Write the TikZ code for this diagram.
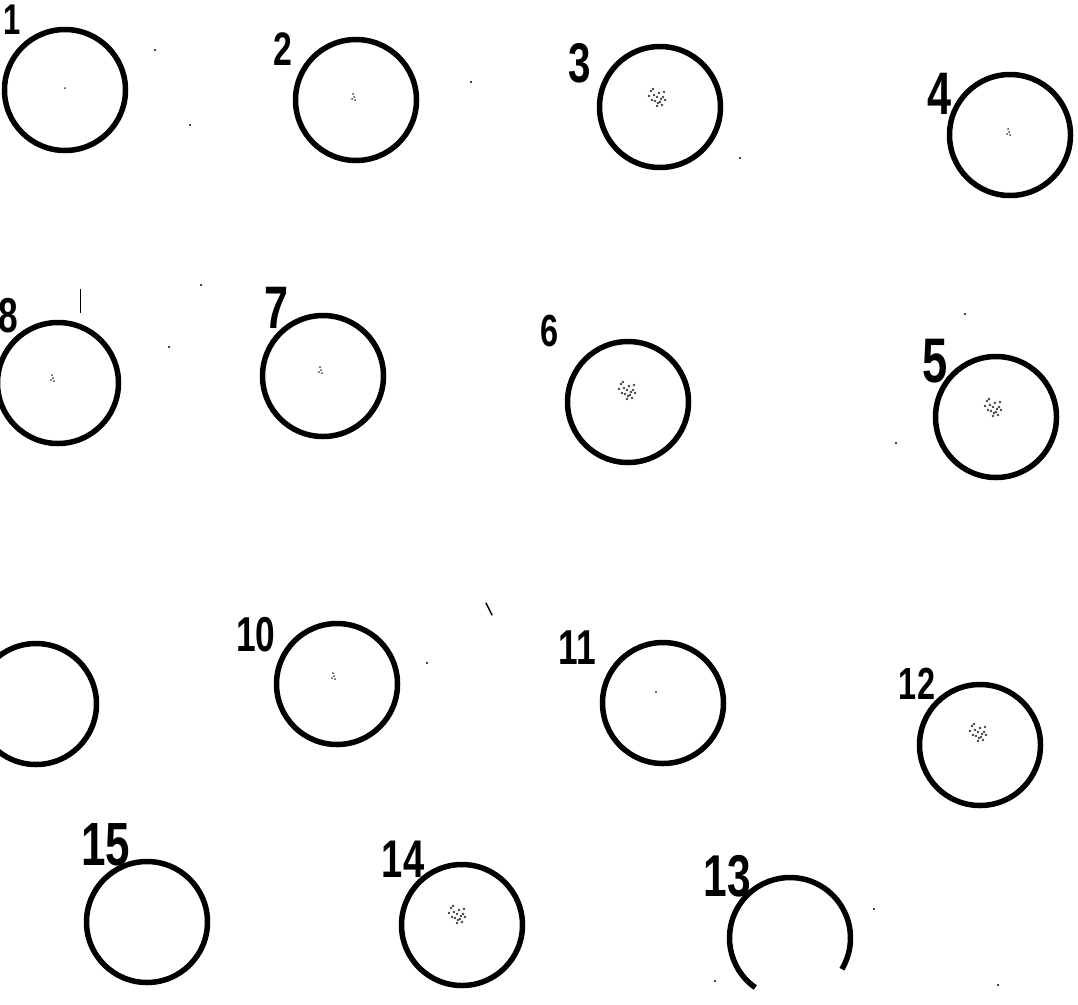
\documentclass[tikz,border=0pt]{standalone}
\usepackage{fontspec}
\setmainfont{Liberation Sans}
\newcommand\lbl[4]{\node[lab] (#1) at (#2) {\fontsize{#3}{#3}\selectfont\scalebox{0.72}[1]{#4}};}
\newcommand\dense[1]{\foreach \dx/\dy in {-6/-8,-3/-4,0/-2,2/-6,4/0,-2/2,1/4,6/-2,-5/1,3/3,8/1,-8/-3,0/7,5/6,-4/-10,7/-7}
  \fill[speck] ([shift={(\dx,\dy)}]#1) circle (1.3);}
\newcommand\light[1]{\foreach \dx/\dy in {0/-3,1/0,-1/2,2/3}
  \fill[speck] ([shift={(\dx,\dy)}]#1) circle (1.0);}
\begin{document}
\begin{tikzpicture}[x=1pt,y=-1pt,
  ring/.style={circle, draw=black, line width=5.5pt, minimum size=121pt, inner sep=0pt},
  lab/.style={inner sep=0pt, font=\bfseries},
  speck/.style={black!75},
  tick/.style={line width=1.5pt, line cap=round}]
\useasboundingbox (0,0) rectangle (1078,1004);
% circles
\node[ring] (c1)  at (65,90) {};
\node[ring] (c2)  at (356,100) {};
\node[ring] (c3)  at (660,107) {};
\node[ring] (c4)  at (1010,135) {};
\node[ring] (c8)  at (58,383) {};
\node[ring] (c7)  at (323,376) {};
\node[ring] (c6)  at (628,402) {};
\node[ring] (c5)  at (996,417) {};
\node[ring] (c9)  at (36,704) {};
\node[ring] (c10) at (337,684) {};
\node[ring] (c11) at (663,703) {};
\node[ring] (c12) at (980,745) {};
\node[ring] (c15) at (147,922) {};
\node[ring] (c14) at (462,925) {};
\node[circle, minimum size=121pt, inner sep=0pt] (c13) at (790,938) {};
\draw[line width=5.5pt] ([shift={(125:60.5)}]c13.center) arc[start angle=125, end angle=391, radius=60.5];
% labels
\lbl{l1}{12,20}{43}{1}
\lbl{l2}{283,49}{47}{2}
\lbl{l3}{580,63}{56}{3}
\lbl{l4}{939,94}{60}{4}
\lbl{l8}{8,316}{49}{8}
\lbl{l7}{277,308}{60}{7}
\lbl{l6}{550,331}{45}{6}
\lbl{l5}{935,361}{63}{5}
\lbl{l10}{256,635}{49}{10}
\lbl{l11}{577,648}{49}{11}
\lbl{l12}{917,684}{45}{12}
\lbl{l15}{106,845}{61}{15}
\lbl{l14}{403,859}{53}{14}
\lbl{l13}{727,876}{59}{13}
% speckles
\dense{657,99}
\dense{627,392}
\dense{993,409}
\dense{978,734}
\dense{457,916}
\light{353,97}
\light{1008,132}
\light{320,370}
\light{52,378}
\light{333,676}
\fill[speck] (656,692) circle (1.2);
\fill[speck] (65,88) circle (1.0);
% stray marks
\coordinate (t1a) at (486,603); \coordinate (t1b) at (492,615);
\draw[tick] (t1a) -- (t1b);
\coordinate (t2a) at (80,289); \coordinate (t2b) at (80,313);
\draw[line width=1pt] (t2a) -- (t2b);
\foreach \p in {(201,285),(169,347),(965,314),(896,443),(427,663),(155,50),(190,125),(471,82),(740,158),(874,909),(715,981),(998,985)}
  \fill \p circle (1.2);
\end{tikzpicture}
\end{document}
